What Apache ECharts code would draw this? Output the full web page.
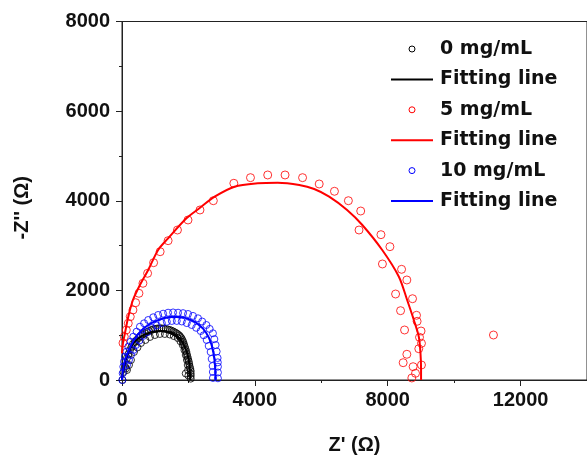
<!DOCTYPE html>
<html><head><meta charset="utf-8">
<script src="https://cdn.jsdelivr.net/npm/echarts@6/dist/echarts.min.js"></script>
<style>html,body{margin:0;padding:0;background:#fff}#c{width:587px;height:462px}</style>
</head><body><div id="c"></div>
<script>
// ---- data (Z', Z'') in ohm ----
const xTicks = [0, 4000, 8000, 12000];
const yTicks = [0, 2000, 4000, 6000, 8000];
const legendNames = ['0 mg/mL', 'Fitting line', '5 mg/mL', 'Fitting line', '10 mg/mL', 'Fitting line'];
const legendKinds = ['circle', 'line', 'circle', 'line', 'circle', 'line'];
const seriesColors = ['#000000', '#000000', '#ff0000', '#ff0000', '#0000ff', '#0000ff'];

const pts0 = [[15,0],[45,179],[90,297],[150,491],[240,669],[330,803],[441,893],[555,982],[690,1042],[810,1093],[939,1131],[1064,1149],[1190,1154],[1319,1138],[1439,1116],[1544,1082],[1640,1042],[1724,993],[1790,931],[1844,848],[1889,743],[1934,636],[1970,520],[2009,413],[2039,297],[2069,201],[1919,145],[2069,89],
  [150,223],[270,446],[360,625],[570,826],[840,960],[1139,1027],[1439,1015],[1679,937],[1829,781],[1919,558],[1979,335],
  [120,260],[195,580],[285,736],[385,848],[498,938],[622,1012],[750,1068],[875,1112],[1000,1140],[1127,1152],[1255,1147],[1380,1128],[1492,1100],[1592,1062],[1682,1018],[1757,962],[1817,890],[1867,796],[1912,690],[1952,578],[1990,466],[2024,355],[2054,249],[2069,140],[2069,30],
  [210,335],[465,726],[705,893],[990,1004],[1289,1027],[1560,981],[1759,865],[1879,670],[1955,446],[1990,220],[2000,100]];
const fit0 = [[0,0],[30,179],[90,402],[195,625],[330,803],[510,937],[720,1027],[960,1082],[1199,1093],[1409,1071],[1589,1015],[1739,926],[1859,792],[1949,625],[2009,446],[2039,268],[2054,0]];

const pts5 = [[30,826],[69,966],[129,1116],[189,1265],[249,1413],[330,1562],[411,1725],[510,1935],[630,2158],[771,2381],[951,2618],[1148,2863],[1388,3109],[1670,3347],[1988,3571],[2348,3794],[2750,4001],[3367,4390],[3868,4515],[4387,4575],[4909,4575],[5436,4515],[5937,4374],[6396,4211],[6816,4001],[7187,3771],[7136,3347],[7796,3243],[8066,2975],[7841,2589],[8417,2470],[8576,2232],[8237,1919],[8747,1814],[8387,1547],[8867,1444],[8885,1310],[8507,1116],[9004,1093],[8957,953],[9016,819],[8936,698],[8576,574],[8465,386],[9016,335],[8765,297],[8837,150],[8726,45],[11184,1004]];
const fit5 = [[0,596],[30,826],[90,1049],[189,1413],[330,1785],[540,2120],[789,2455],[1088,2901],[1388,3162],[1940,3609],[2339,3838],[2789,4091],[3388,4314],[4087,4390],[4687,4403],[5337,4352],[5787,4262],[6237,4091],[6777,3794],[7235,3459],[7835,2901],[8336,2305],[8585,1785],[8786,1339],[8936,966],[8987,596],[9004,223],[9004,0]];

const pts10 = [[9,0],[39,297],[90,520],[189,743],[339,966],[540,1189],[789,1339],[1088,1451],[1388,1502],[1688,1502],[1988,1473],[2288,1377],[2540,1227],[2738,1042],[2819,781],[2879,491],[2888,297],[2888,38],
  [150,335],[270,558],[420,781],[630,982],[900,1160],[1199,1272],[1499,1317],[1799,1306],[2099,1227],[2369,1093],[2549,893],[2669,625],[2729,312],[2738,45],
  [20,150],[60,410],[135,632],[260,855],[440,1078],[665,1265],[940,1400],[1238,1480],[1538,1508],[1838,1492],[2138,1430],[2414,1305],[2640,1140],[2780,912],[2850,636],[2885,394],[2888,168],
  [210,447],[345,670],[525,882],[765,1071],[1050,1216],[1349,1300],[1649,1318],[1949,1270],[2234,1165],[2460,998],[2610,760],[2700,470],[2735,180]];
const fit10 = [[0,0],[30,223],[90,446],[210,669],[360,893],[570,1093],[840,1250],[1139,1350],[1439,1406],[1739,1406],[2039,1350],[2309,1239],[2519,1071],[2669,848],[2759,580],[2804,290],[2819,0]];

const FONT = 'Liberation Sans, Arial, sans-serif';
function scatter(name, data, col, size) {
  return { name, type: 'scatter', data, symbol: 'circle', symbolSize: size, xAxisIndex: 0, yAxisIndex: 0,
    itemStyle: { color: 'rgba(0,0,0,0)', borderColor: col, borderWidth: 1 }, emphasis: { disabled: true }, z: 3 };
}
function fitLine(name, data, col) {
  return { name, type: 'line', data, smooth: 0.3, symbol: 'none', showSymbol: false, xAxisIndex: 0, yAxisIndex: 0,
    lineStyle: { color: col, width: 2 }, itemStyle: { color: col }, emphasis: { disabled: true }, z: 4 };
}

// legend drawn as graphic elements (layout only; no data marks)
const legendGraphics = [];
const LX = 391, LW = 42, LY0 = 49, LDY = 30.4;
legendNames.forEach((nm, i) => {
  const cy = LY0 + i * LDY, col = seriesColors[i];
  if (legendKinds[i] === 'circle') {
    legendGraphics.push({ type: 'circle', shape: { cx: LX + LW / 2, cy: cy, r: 3 },
      style: { fill: 'none', stroke: col, lineWidth: 1 }, silent: true });
  } else {
    legendGraphics.push({ type: 'line', shape: { x1: LX, y1: cy, x2: LX + LW, y2: cy },
      style: { stroke: col, lineWidth: 2 }, silent: true });
  }
  legendGraphics.push({ type: 'text', x: 440, y: cy, silent: true,
    style: { text: nm, fill: '#111', font: 'bold 19px "DejaVu Sans", sans-serif', textVerticalAlign: 'middle', verticalAlign: 'middle' } });
});

const chart = echarts.init(document.getElementById('c'), null, { renderer: 'canvas' });
chart.setOption({
  animation: false,
  backgroundColor: '#fff',
  grid: { left: 122, top: 21.5, width: 467, height: 358.5, show: true, borderColor: '#222', borderWidth: 1, backgroundColor: 'transparent' },
  xAxis: [{
    type: 'value', min: 0, max: 14000, interval: 4000, position: 'bottom',
    name: "Z' (Ω)", nameLocation: 'middle', nameGap: 55,
    nameTextStyle: { fontFamily: FONT, fontWeight: 'bold', fontSize: 20, color: '#111' },
    axisLine: { show: true, lineStyle: { color: '#222', width: 1 } },
    axisTick: { show: true, inside: false, length: 6, lineStyle: { color: '#222' } },
    axisLabel: { margin: 10, fontFamily: FONT, fontWeight: 'bold', fontSize: 20, color: '#111', showMaxLabel: false,
      formatter: v => xTicks.indexOf(v) >= 0 ? String(v) : '' },
    splitLine: { show: false }
  }, {
    type: 'value', min: 0, max: 14000, interval: 2000, position: 'bottom', gridIndex: 0,
    axisLine: { show: false }, axisLabel: { show: false }, splitLine: { show: false },
    axisTick: { show: true, length: 3, lineStyle: { color: '#222' } }
  }],
  yAxis: [{
    type: 'value', min: 0, max: 8000, interval: 2000,
    name: "-Z'' (Ω)", nameLocation: 'middle', nameGap: 90, nameRotate: 90,
    nameTextStyle: { fontFamily: FONT, fontWeight: 'bold', fontSize: 20, color: '#111', padding: [0, 14, 0, 0] },
    axisLine: { show: true, lineStyle: { color: '#222', width: 1 } },
    axisTick: { show: true, length: 6, lineStyle: { color: '#222' } },
    minorTick: { show: true, splitNumber: 2, length: 3, lineStyle: { color: '#222' } },
    axisLabel: { margin: 12, fontFamily: FONT, fontWeight: 'bold', fontSize: 20, color: '#111',
      formatter: v => yTicks.indexOf(v) >= 0 ? String(v) : '' },
    splitLine: { show: false }
  }],
  graphic: legendGraphics,
  series: [
    scatter(legendNames[0], pts0, seriesColors[0], 7),
    fitLine(legendNames[1], fit0, seriesColors[1]),
    scatter(legendNames[2], pts5, seriesColors[2], 8),
    fitLine(legendNames[3], fit5, seriesColors[3]),
    scatter(legendNames[4], pts10, seriesColors[4], 7),
    fitLine(legendNames[5], fit10, seriesColors[5])
  ]
});
</script>
</body></html>
